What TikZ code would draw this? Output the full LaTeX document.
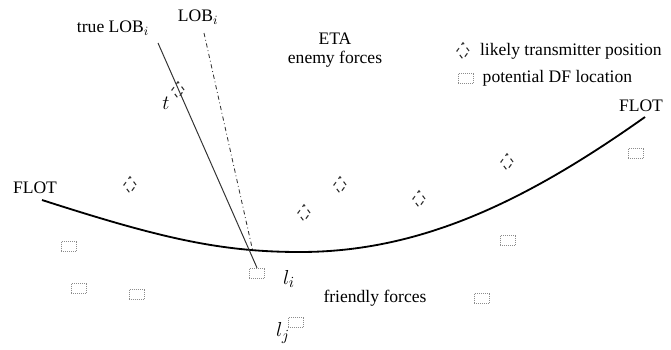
\documentclass[tikz,border=0pt]{standalone}
\usepackage{fontspec}
\setmainfont{Liberation Serif}
\usetikzlibrary{positioning,shapes.geometric}

\begin{document}
\begin{tikzpicture}[x=0.025cm, y=-0.025cm,
  txpos/.style={draw=black!80, dashed, diamond, inner sep=0pt,
                minimum width=9pt, minimum height=12pt, line width=0.8pt},
  dfloc/.style={draw=black!45, densely dotted, rectangle, inner sep=0pt,
                minimum width=11pt, minimum height=7pt},
  lbl/.style={font=\fontsize{12.5}{14}\selectfont, inner sep=1pt},
  mlbl/.style={font=\fontsize{15}{17}\selectfont, inner sep=1pt},
  flot/.style={line width=1.3pt}]
\useasboundingbox (0,0) rectangle (671,349);
% labels
\node[lbl] (tlob) at (113,28) {true \(\mathrm{LOB}_i\)};
\node[lbl] (lob)  at (198,17) {\(\mathrm{LOB}_i\)};
\node[lbl, align=center] (eta) at (335,50) {ETA\\enemy forces};
\node[lbl] (ff) at (375,298) {friendly forces};
\node[lbl] (flotl) at (35,188) {FLOT};
\node[lbl] (flotr) at (641,106) {FLOT};
% legend
\node[txpos] (legtx) at (463,51) {};
\node[lbl, right=6pt of legtx] {likely transmitter position};
\node[dfloc] (legdf) at (466,78) {};
\node[lbl, right=5pt of legdf] {potential DF location};
% likely transmitter positions
\node[txpos] (t)  at (178,90) {};
\node[txpos] (tb) at (130,185) {};
\node[txpos] (tc) at (304,213) {};
\node[txpos] (td) at (340,185) {};
\node[txpos] (te) at (419,199) {};
\node[txpos] (tf) at (507,162) {};
% potential DF locations
\node[dfloc] (da) at (69,246) {};
\node[dfloc] (db) at (79,288) {};
\node[dfloc] (dc) at (137,294) {};
\node[dfloc] (li) at (257,273) {};
\node[dfloc] (lj) at (296,322) {};
\node[dfloc] (dd) at (508,240) {};
\node[dfloc] (de) at (482,298) {};
\node[dfloc] (df) at (636,153) {};
\node[mlbl] at (166,103) {\(t\)};
\node[mlbl] at (289,279) {\(l_i\)};
\node[mlbl] at (283,333) {\(l_j\)};
% front line
\coordinate (fa) at (42,200);
\coordinate (fb) at (300,252);
\coordinate (fc) at (645,117);
\draw[flot] (fa) .. controls (160,238) and (220,252) .. (fb)
  .. controls (420,252) and (525,202) .. (fc);
% lines of bearing
\coordinate (tlobs) at (158,43);
\coordinate (lobs) at (204,33);
\coordinate (lobe) at (253,252);
\draw[black!80, line width=0.7pt] (tlobs) -- (li.north);
\draw[black!80, line width=0.6pt, dash dot] (lobs) -- (lobe);
\end{tikzpicture}
\end{document}
